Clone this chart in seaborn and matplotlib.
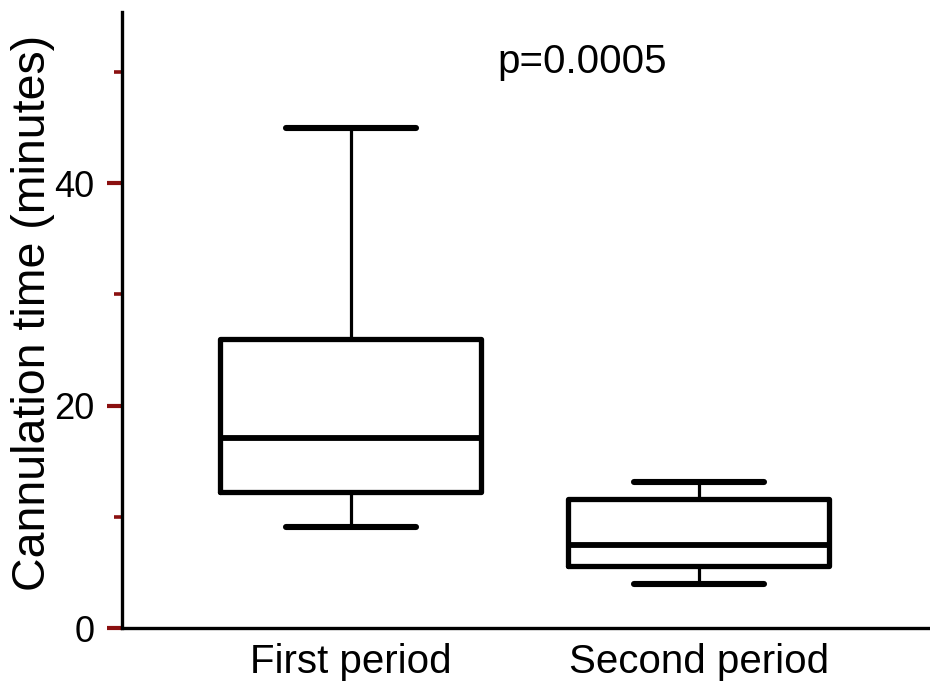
import numpy as np
import pandas as pd
import matplotlib
matplotlib.use("Agg")
import matplotlib.pyplot as plt
import seaborn as sns
from matplotlib.ticker import MultipleLocator

# ==========================
# Data (five-number summaries)
# ==========================

groups = ["First period", "Second period"]
first_period = [9.1, 12.2, 17.1, 26.0, 45.0]   # min, Q1, median, Q3, max
second_period = [4.0, 5.6, 7.5, 11.6, 13.1]
p_text = "p=0.0005"

df = pd.DataFrame({
    "group": [groups[0]] * len(first_period) + [groups[1]] * len(second_period),
    "time": first_period + second_period,
})

# ==========================
# Plot
# ==========================

sns.set_style("ticks")
plt.rcParams["font.family"] = ["Liberation Sans", "DejaVu Sans"]
plt.rcParams["text.color"] = "black"
plt.rcParams["xtick.labelcolor"] = "black"
plt.rcParams["ytick.labelcolor"] = "black"
plt.rcParams["axes.labelcolor"] = "black"

fig = plt.figure(figsize=(9.3, 6.89), dpi=100)
ax = fig.add_axes([0.131, 0.0885, 0.869, 0.894])

sns.boxplot(
    data=df, x="group", y="time", ax=ax,
    whis=(0, 100), width=0.75, fill=False, color="black",
    linewidth=3.8,
    whiskerprops={"linewidth": 2.3},
    medianprops={"linewidth": 4.2},
    capprops={"linewidth": 4.4},
)

ax.set_xlim(-0.658, 1.664)
ax.set_ylim(0, 55.4)

for side in ["top", "right"]:
    ax.spines[side].set_visible(False)
for side in ["left", "bottom"]:
    ax.spines[side].set_linewidth(2.4)
    ax.spines[side].set_color("black")

ax.yaxis.set_major_locator(MultipleLocator(20))
ax.yaxis.set_minor_locator(MultipleLocator(10))
ax.tick_params(axis="y", which="major", length=10.5, width=3.0,
               color="#8b1010", pad=9, labelsize=26)
ax.tick_params(axis="y", which="minor", length=5.5, width=2.6, color="#8b1010")
ax.tick_params(axis="x", length=0, pad=11, labelsize=29)

ax.set_xlabel("")
ax.set_ylabel("Cannulation time (minutes)", fontsize=33.5)
ax.yaxis.set_label_coords(-0.083, 0.511)

ax.text(0.42, 49.9, p_text, fontsize=29, ha="left", va="baseline")

plt.savefig("out.png", dpi=100)
